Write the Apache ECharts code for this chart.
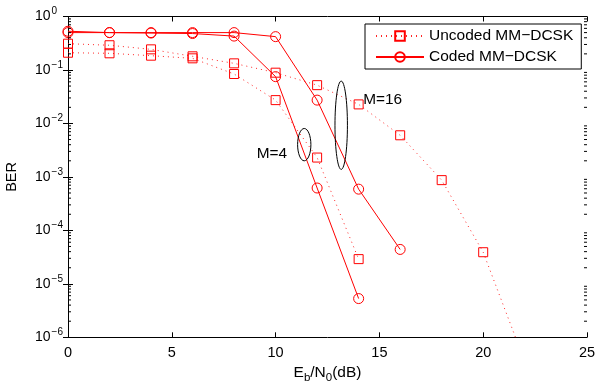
<!DOCTYPE html>
<html><head><meta charset="utf-8">
<script src="https://cdn.jsdelivr.net/npm/echarts@6/dist/echarts.min.js"></script>
<style>html,body{margin:0;padding:0;background:#fff}#c{width:598px;height:387px}</style>
</head><body><div id="c"></div>
<script>
// ---- data ----
const snrUncodedM4 = [0, 2, 4, 6, 8, 10, 12, 14];
const berUncodedM4 = [0.21, 0.205, 0.185, 0.165, 0.084, 0.0273, 0.0023, 2.9e-5];
const snrUncodedM16 = [0, 2, 4, 6, 8, 10, 12, 14, 16, 18, 20];
const berUncodedM16 = [0.31, 0.29, 0.243, 0.18, 0.133, 0.089, 0.052, 0.0227, 0.006, 8.7e-4, 3.9e-5];
const uncodedM16TailSnr = 22;      // dotted curve continues below the axis
const uncodedM16TailBer = 3.5e-7;
const snrCodedM4 = [0, 2, 4, 6, 8, 10, 12, 14];
const berCodedM4 = [0.53, 0.5, 0.49, 0.48, 0.43, 0.075, 6.2e-4, 5.3e-6];
const snrCodedM16 = [0, 2, 4, 6, 8, 10, 12, 14, 16];
const berCodedM16 = [0.5, 0.5, 0.5, 0.5, 0.5, 0.42, 0.0273, 5.9e-4, 4.4e-5];
const xTicks = [0, 5, 10, 15, 20, 25];
const yTickExponents = [0, -1, -2, -3, -4, -5, -6];
const legendNames = ['Uncoded MM\u2212DCSK', 'Coded MM\u2212DCSK'];
const groupLabels = ['M=4', 'M=16'];
// annotation boxes in data coordinates: [xMin, xMax, berTop, berBottom]
const ellipseBoxes = [[11.06, 11.70, 8.05e-3, 2.0e-3], [12.86, 13.46, 6.2e-2, 1.38e-3]];
// label anchors (left, middle) in data coordinates
const labelAnchors = [[9.09, 2.74e-3], [14.22, 2.81e-2]];

const FONT = 'Liberation Sans, Arial, Helvetica, sans-serif';
const RED = '#ff0000';

const minorVals = [];
for (let e = -6; e < 0; e++) for (let m = 2; m <= 9; m++) minorVals.push(m * Math.pow(10, e));

function pairs(xs, ys) { return xs.map((x, i) => [x, ys[i]]); }

function supExp(v) {
  const e = Math.round(Math.log10(v));
  if (yTickExponents.indexOf(e) < 0) return '';
  const s = e < 0 ? '\u2212' + (-e) : String(e);
  return '{b|10}{s|' + s + '}';
}

const chart = echarts.init(document.getElementById('c'), null, {renderer: 'canvas'});

const uncodedStyle = {
  type: 'line', name: legendNames[0], symbol: 'rect', symbolSize: 9,
  lineStyle: {color: RED, width: 1, type: [1, 4], opacity: 0.85},
  itemStyle: {color: 'transparent', borderColor: RED, borderWidth: 1},
  emphasis: {disabled: true}, z: 3
};
const codedStyle = {
  type: 'line', name: legendNames[1], symbol: 'circle', symbolSize: 10,
  lineStyle: {color: RED, width: 1, type: 'solid'},
  itemStyle: {color: 'transparent', borderColor: RED, borderWidth: 1},
  emphasis: {disabled: true}, z: 3
};

const m16data = pairs(snrUncodedM16, berUncodedM16);
m16data.push({value: [uncodedM16TailSnr, uncodedM16TailBer], symbol: 'none'});

const option = {
  animation: false,
  backgroundColor: '#fff',
  textStyle: {fontFamily: FONT},
  grid: {left: 68, right: 11, top: 16.5, bottom: 49.7, containLabel: false, outerBoundsMode: 'none'},
  legend: {
    data: legendNames.map(n => ({name: n})),
    orient: 'vertical', left: 365, top: 24,
    backgroundColor: '#fff', borderColor: '#000', borderWidth: 1, borderRadius: 0,
    padding: [4, 8, 4, 10], itemGap: 5, itemWidth: 48, itemHeight: 12,
    textStyle: {fontFamily: FONT, fontSize: 15.5, color: '#000'},
    selectedMode: false
  },
  xAxis: [{
    type: 'value', min: 0, max: 25, interval: 5, position: 'bottom',
    name: '{n|E}{sub|b}{n|/N}{sub|0}{n|(dB)}', nameLocation: 'middle', nameGap: 19,
    nameTextStyle: {rich: {
      n: {fontFamily: FONT, fontSize: 15.5, color: '#000'},
      sub: {fontFamily: FONT, fontSize: 11.5, color: '#000', verticalAlign: 'bottom', padding: [9, 0, 0, 0]}
    }},
    axisLine: {lineStyle: {color: '#000', width: 1}},
    axisTick: {inside: true, length: 5, lineStyle: {color: '#000'}},
    axisLabel: {color: '#000', fontFamily: FONT, fontSize: 14.5, margin: 8,
      formatter: v => xTicks.indexOf(v) >= 0 ? String(v) : ''},
    splitLine: {show: false}
  }, {
    type: 'value', min: 0, max: 25, interval: 5, position: 'top',
    axisLine: {lineStyle: {color: '#000', width: 1}},
    axisTick: {inside: true, length: 5, lineStyle: {color: '#000'}},
    axisLabel: {show: false}, splitLine: {show: false}
  }],
  yAxis: [{
    type: 'log', logBase: 10, min: 1e-6, max: 1, splitNumber: 6,
    name: 'BER', nameLocation: 'middle', nameGap: 49,
    nameTextStyle: {fontFamily: FONT, fontSize: 14.5, color: '#000'},
    axisLine: {lineStyle: {color: '#000', width: 1}},
    axisTick: {inside: true, length: 5, lineStyle: {color: '#000'}},
    axisLabel: {
      color: '#000', align: 'left', margin: 33,
      formatter: supExp,
      rich: {
        b: {fontFamily: FONT, fontSize: 14, color: '#000'},
        s: {fontFamily: FONT, fontSize: 10, color: '#000', padding: [0, 0, 10, 1]}
      }
    },
    splitLine: {show: false}
  }, {
    type: 'log', logBase: 10, min: 1e-6, max: 1, splitNumber: 6, position: 'right',
    axisLine: {lineStyle: {color: '#000', width: 1}},
    axisTick: {inside: true, length: 5, lineStyle: {color: '#000'}},
    axisLabel: {show: false}, splitLine: {show: false}
  }],
  series: [
    Object.assign({}, uncodedStyle, {data: pairs(snrUncodedM4, berUncodedM4)}),
    Object.assign({}, uncodedStyle, {data: m16data}),
    Object.assign({}, codedStyle, {data: pairs(snrCodedM4, berCodedM4)}),
    Object.assign({}, codedStyle, {data: pairs(snrCodedM16, berCodedM16)}),
    {
      type: 'custom', name: 'minorTicks', silent: true, clip: false, z: 5,
      data: minorVals.map(v => [0, v]),
      renderItem: function (params, api) {
        const v = api.value(1);
        const l = api.coord([0, v]);
        const r = api.coord([25, v]);
        return {type: 'group', children: [
          {type: 'line', shape: {x1: l[0], y1: l[1], x2: l[0] + 3, y2: l[1]}, style: {stroke: '#000', lineWidth: 1}},
          {type: 'line', shape: {x1: r[0] - 3, y1: r[1], x2: r[0], y2: r[1]}, style: {stroke: '#000', lineWidth: 1}}
        ]};
      }
    },
    {
      type: 'custom', name: 'annotations', silent: true, clip: false, z: 6,
      data: ellipseBoxes.map((b, i) => [b[0], b[2], i]),
      renderItem: function (params, api) {
        const i = params.dataIndex;
        const b = ellipseBoxes[i];
        const p1 = api.coord([b[0], b[2]]);
        const p2 = api.coord([b[1], b[3]]);
        const a = api.coord(labelAnchors[i]);
        return {type: 'group', children: [
          {type: 'ellipse', shape: {cx: (p1[0] + p2[0]) / 2, cy: (p1[1] + p2[1]) / 2,
            rx: Math.abs(p2[0] - p1[0]) / 2, ry: Math.abs(p2[1] - p1[1]) / 2},
            style: {fill: 'none', stroke: '#000', lineWidth: 1}},
          {type: 'text', x: a[0], y: a[1], style: {text: groupLabels[i], fill: '#000',
            font: '15.4px ' + FONT, textAlign: 'left', textVerticalAlign: 'middle'}}
        ]};
      }
    }
  ]
};
chart.setOption(option);
</script>
</body></html>
